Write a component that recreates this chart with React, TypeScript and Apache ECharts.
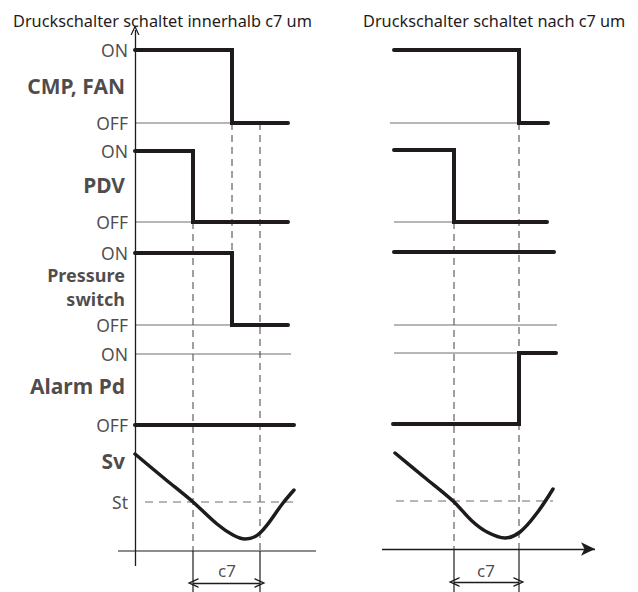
import { useEffect, useRef } from "react";
import * as echarts from "echarts";

type P = [number, number];

// x: time units after the start of the signals, y: level units above the time axis
// ---- left panel: pressure switch trips within c7
const leftCmp: P[] = [[0, 501], [97, 501], [97, 428], [153, 428]];
const leftPdv: P[] = [[0, 400], [58, 400], [58, 329], [153, 329]];
const leftPs: P[] = [[0, 298], [97, 298], [97, 226], [153, 226]];
const leftAlarm: P[] = [[0, 126], [159, 126]];
const leftSv: P[] = [[0, 97], [30, 72], [58, 49], [82, 27], [98, 16], [110, 12], [125, 18], [148, 48], [159, 61]];
const leftRefs: P[][] = [
  [[0, 428], [97, 428]],
  [[0, 329], [58, 329]],
  [[0, 226], [97, 226]],
  [[0, 197], [156, 197]],
];
const leftDashed: P[][] = [
  [[58, 329], [58, 0]],
  [[97, 428], [97, 298]],
  [[125, 428], [125, 0]],
];
const leftSt: P[] = [[10, 49], [162, 49]];
const leftTicks: P[][] = [
  [[58, 0], [58, -41]],
  [[125, 0], [125, -41]],
];
const leftTimeAxis: P[] = [[-17, 0], [181, 0]];
const leftLevelAxis: P[] = [[0, -15], [0, 521]];
const leftC7: P[] = [[58, -32], [125, -32]];
const leftC7Label: P = [92, -19];

// ---- right panel: pressure switch trips after c7
const rightCmp: P[] = [[0, 501], [125, 501], [125, 428], [154, 428]];
const rightPdv: P[] = [[0, 401], [60, 401], [60, 329], [153, 329]];
const rightPs: P[] = [[0, 299], [160, 299]];
const rightAlarm: P[] = [[-1, 127], [125, 127], [125, 198], [162, 198]];
const rightSv: P[] = [[1, 98], [30, 74], [59, 50], [78, 30], [93, 19], [111, 13], [126, 19], [143, 38], [159, 62]];
const rightRefs: P[][] = [
  [[-4, 428], [125, 428]],
  [[0, 329], [60, 329]],
  [[0, 226], [163, 226]],
  [[0, 198], [125, 198]],
];
const rightDashed: P[][] = [
  [[60, 329], [60, 2]],
  [[125, 428], [125, 2]],
];
const rightSt: P[] = [[2, 50], [159, 50]];
const rightTicks: P[][] = [
  [[60, 2], [60, -41]],
  [[125, 2], [125, -41]],
];
const rightTimeAxis: P[] = [[-12, 2], [201, 2]];
const rightC7: P[] = [[60, -31], [125, -31]];
const rightC7Label: P = [92, -19];

// ---- texts
const titles = ["Druckschalter schaltet innerhalb c7 um", "Druckschalter schaltet nach c7 um"];
const levelLabels = ["ON", "OFF", "ON", "OFF", "ON", "OFF", "ON", "OFF", "St"];
const levelLabelY = [501, 428, 400, 329, 298, 226, 197, 126, 49];
const signalNames = ["CMP, FAN", "PDV", "Alarm Pd", "Sv"];
const signalNameY = [465, 366, 165, 90];
const twoLineName = ["Pressure", "switch"];
const twoLineNameY = [276, 252];
const c7Text = "c7";

const INK = "#1f1b1c";
const GREY = "#6d6e71";
const FONT = "'Noto Sans', sans-serif";
const CHEVRON = "path://M0 12 L5 0 L10 12 L8.6 12 L5 3.6 L1.4 12 Z";

function seg(grid: number, data: P[], kind: string): any {
  const base: any = {
    type: "line",
    xAxisIndex: grid,
    yAxisIndex: grid,
    data,
    symbol: "none",
    silent: true,
    clip: false,
    z: 2,
  };
  if (kind === "thick") {
    base.lineStyle = { color: INK, width: 4, cap: "round", join: "miter" };
    base.z = 5;
  } else if (kind === "curve") {
    base.lineStyle = { color: INK, width: 3.5, cap: "round" };
    base.smooth = 0.35;
    base.z = 5;
  } else if (kind === "thin") {
    base.lineStyle = { color: GREY, width: 1 };
  } else if (kind === "dash") {
    base.lineStyle = { color: "#414042", width: 1, type: [7, 5] };
  } else if (kind === "st") {
    base.lineStyle = { color: GREY, width: 1.2, type: [8, 6] };
  } else if (kind === "solid") {
    base.lineStyle = { color: INK, width: 1.2 };
  }
  return base;
}

function arrowLine(grid: number, data: P[], startSym: string, endSym: string, size: number[], width: number): any {
  return {
    type: "line",
    xAxisIndex: grid,
    yAxisIndex: grid,
    data: [],
    silent: true,
    markLine: {
      silent: true,
      animation: false,
      label: { show: false },
      lineStyle: { color: INK, width, type: "solid" },
      symbolSize: size,
      data: [[
        { coord: data[0], symbol: startSym },
        { coord: data[1], symbol: endSym },
      ]],
    },
  };
}

function textSeries(grid: number, items: { value: P; text: string }[], label: any): any {
  return {
    type: "scatter",
    xAxisIndex: grid,
    yAxisIndex: grid,
    symbolSize: 0,
    silent: true,
    clip: false,
    data: items.map((d) => ({ value: d.value, name: d.text })),
    label: { show: true, formatter: "{b}", fontFamily: FONT, color: INK, ...label },
  };
}

export default function App() {
  const ref = useRef<HTMLDivElement>(null);
  useEffect(() => {
    if (!ref.current) return;
    const chart = echarts.init(ref.current, undefined, { renderer: "svg" });
    const series: any[] = [];
    // left panel
    leftRefs.forEach((d) => series.push(seg(0, d, "thin")));
    leftDashed.forEach((d) => series.push(seg(0, d, "dash")));
    leftTicks.forEach((d) => series.push(seg(0, d, "solid")));
    series.push(seg(0, leftSt, "st"));
    series.push(seg(0, leftTimeAxis, "solid"));
    series.push(arrowLine(0, leftLevelAxis, "none", CHEVRON, [9, 10], 1.3));
    series.push(arrowLine(0, leftC7, CHEVRON, CHEVRON, [10, 11], 1.3));
    [leftCmp, leftPdv, leftPs, leftAlarm].forEach((d) => series.push(seg(0, d, "thick")));
    series.push(seg(0, leftSv, "curve"));
    series.push(
      textSeries(0, levelLabels.map((t, i) => ({ value: [0, levelLabelY[i]] as P, text: t })), {
        position: "left", distance: 7, fontSize: 17.5,
      })
    );
    series.push(
      textSeries(0, signalNames.map((t, i) => ({ value: [0, signalNameY[i]] as P, text: t })), {
        position: "left", distance: 10, fontSize: 21, fontWeight: "bold",
      })
    );
    series.push(
      textSeries(0, twoLineName.map((t, i) => ({ value: [0, twoLineNameY[i]] as P, text: t })), {
        position: "left", distance: 10, fontSize: 18, fontWeight: "bold",
      })
    );
    series.push(textSeries(0, [{ value: leftC7Label, text: c7Text }], { position: "inside", fontSize: 17 }));
    // right panel
    rightRefs.forEach((d) => series.push(seg(1, d, "thin")));
    rightDashed.forEach((d) => series.push(seg(1, d, "dash")));
    rightTicks.forEach((d) => series.push(seg(1, d, "solid")));
    series.push(seg(1, rightSt, "st"));
    series.push(arrowLine(1, rightTimeAxis, "none", "arrow", [10, 14], 1.3));
    series.push(arrowLine(1, rightC7, CHEVRON, CHEVRON, [10, 11], 1.3));
    [rightCmp, rightPdv, rightPs, rightAlarm].forEach((d) => series.push(seg(1, d, "thick")));
    series.push(seg(1, rightSv, "curve"));
    series.push(textSeries(1, [{ value: rightC7Label, text: c7Text }], { position: "inside", fontSize: 17 }));

    const xAx = (min: number, max: number, g: number) => ({ type: "value", min, max, show: false, gridIndex: g });
    const yAx = (g: number) => ({ type: "value", min: -41, max: 521, show: false, gridIndex: g });

    chart.setOption({
      animation: false,
      backgroundColor: "#ffffff",
      title: [
        { text: titles[0], left: 8, top: 8, textStyle: { fontFamily: FONT, fontSize: 16.3, fontWeight: "normal", color: INK } },
        { text: titles[1], left: 358, top: 8, textStyle: { fontFamily: FONT, fontSize: 16.3, fontWeight: "normal", color: INK } },
      ],
      grid: [
        { left: 95, width: 240, top: 30, bottom: 0 },
        { left: 354, width: 260, top: 30, bottom: 0 },
      ],
      xAxis: [xAx(-40, 200, 0), xAx(-40, 220, 1)],
      yAxis: [yAx(0), yAx(1)],
      series,
    });
    return () => chart.dispose();
  }, []);
  return <div ref={ref} style={{ width: 638, height: 592, position: "absolute", left: 0, top: 0 }} />;
}
